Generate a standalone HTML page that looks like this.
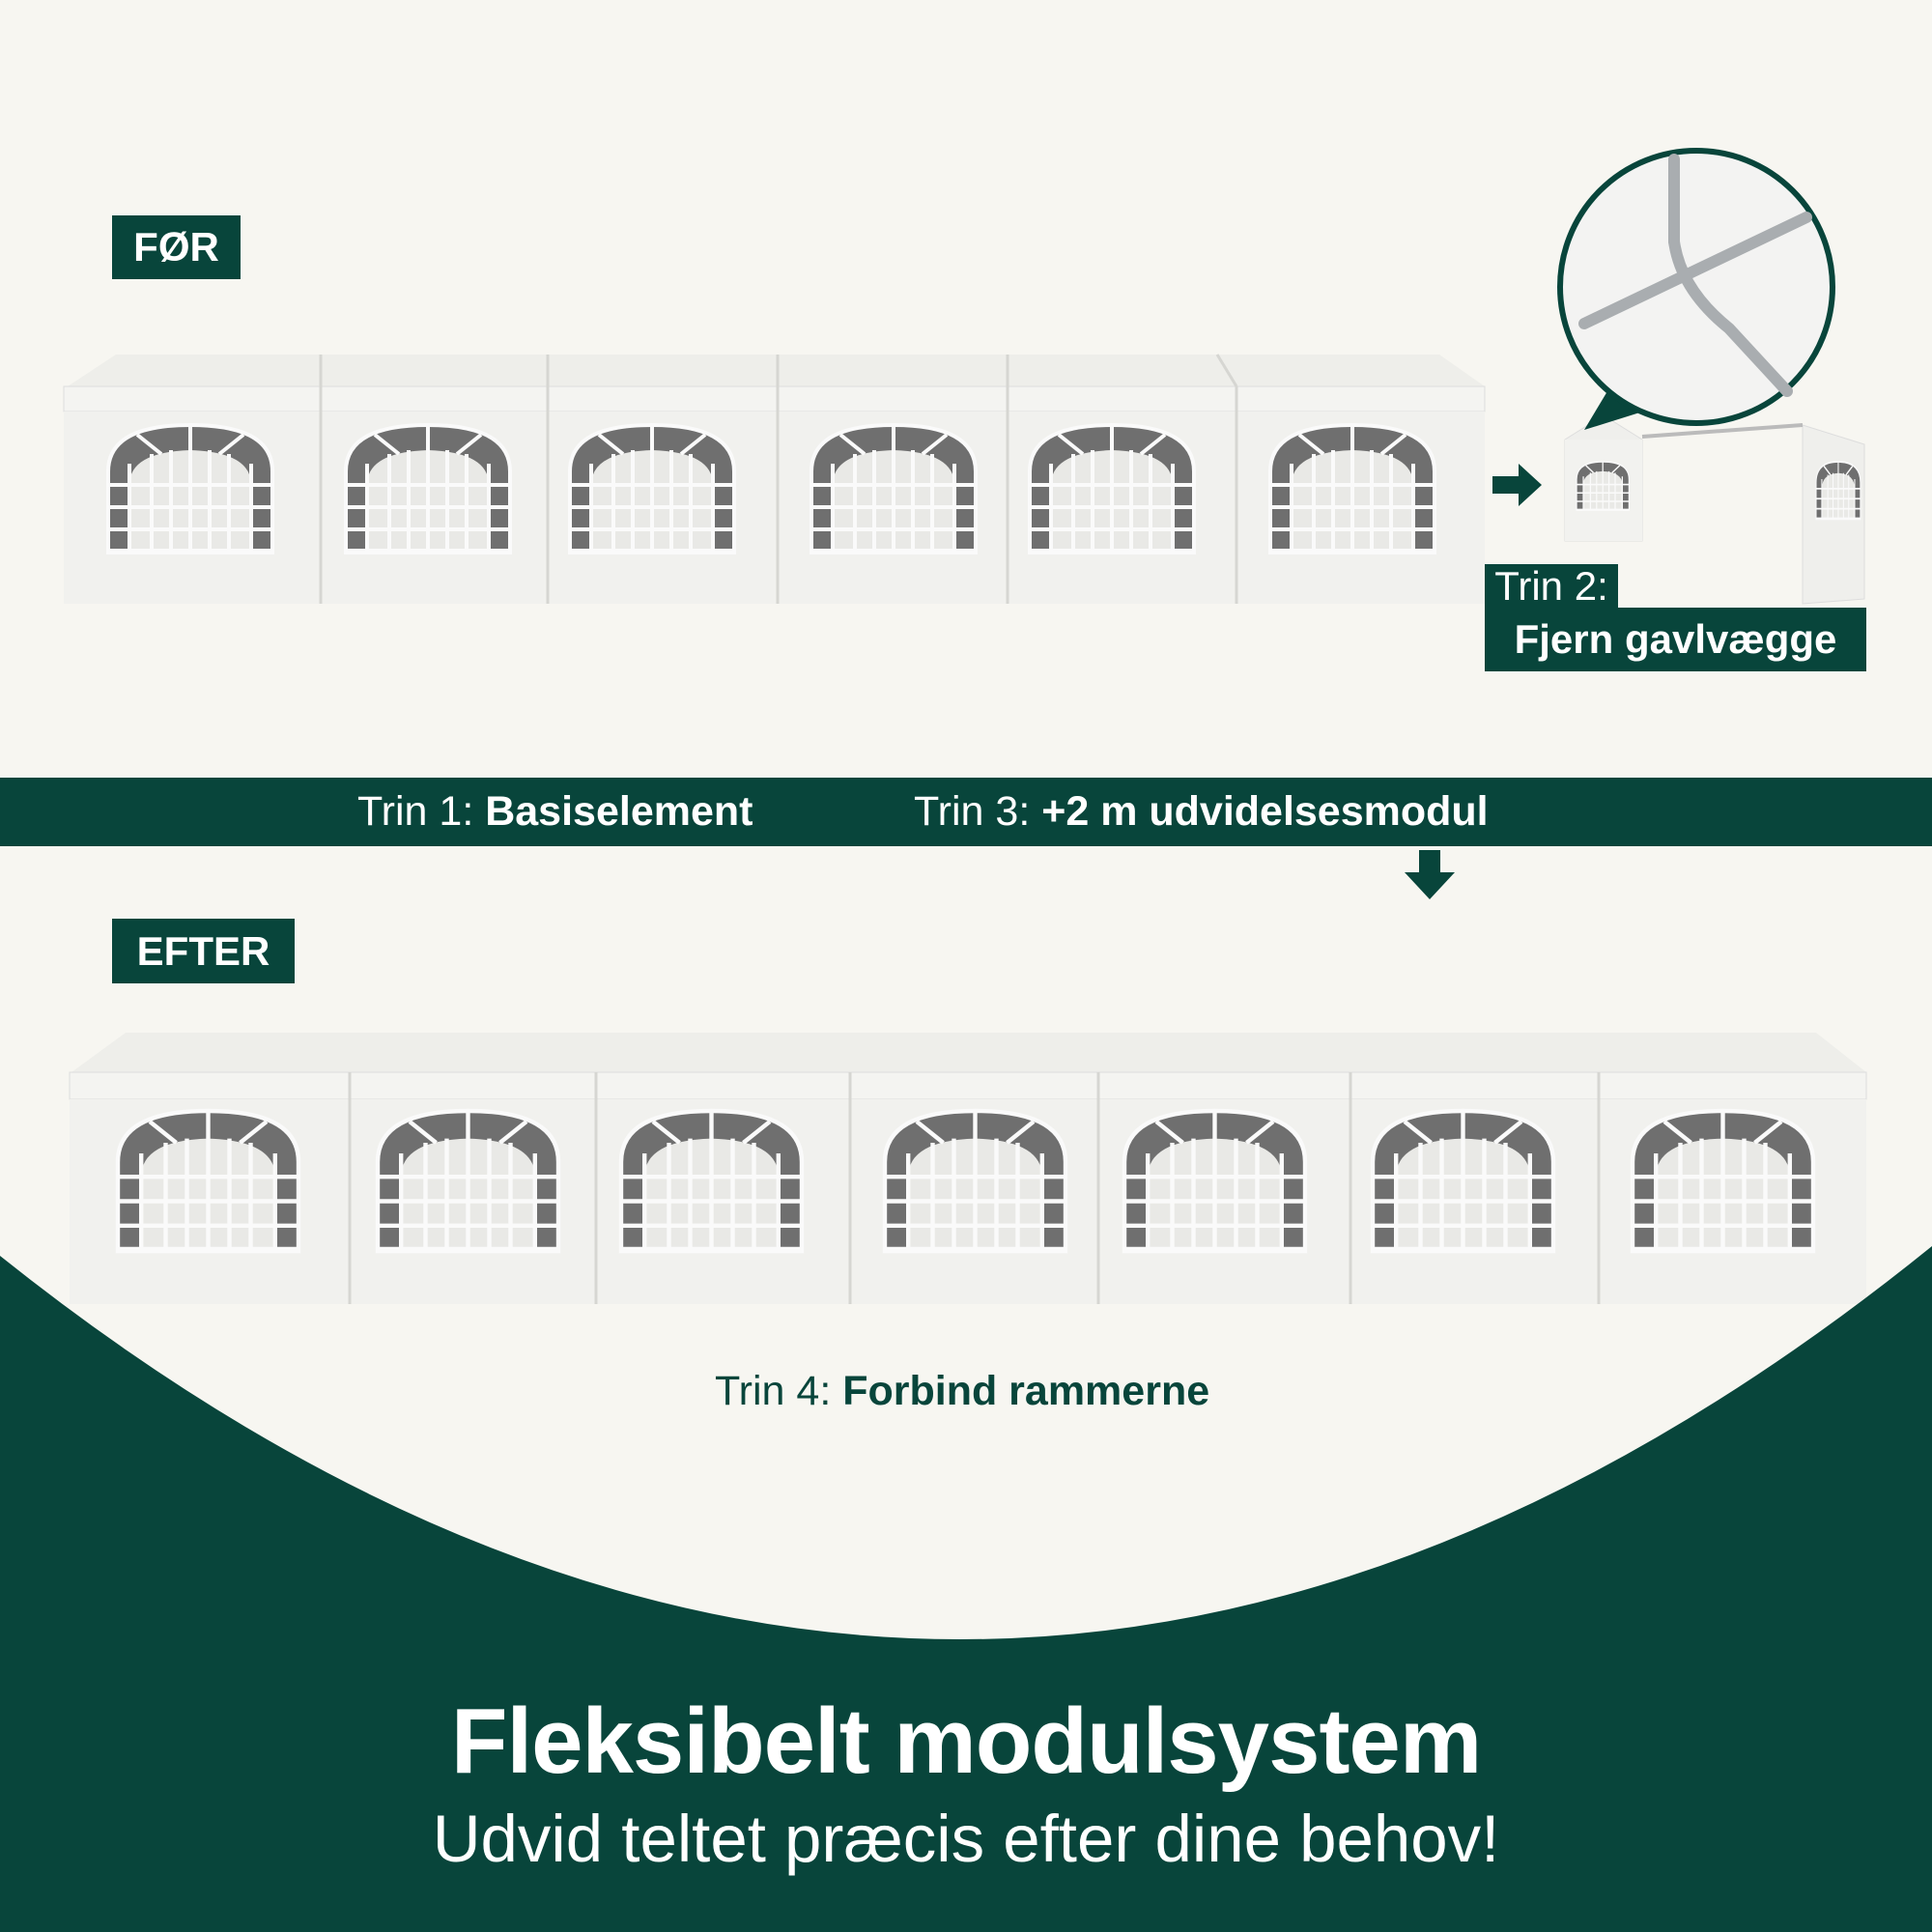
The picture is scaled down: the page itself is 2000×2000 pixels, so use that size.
<!DOCTYPE html>
<html><head><meta charset="utf-8"><style>
html,body{margin:0;padding:0}
body{width:2000px;height:2000px;position:relative;overflow:hidden;background:#f7f6f1;font-family:"Liberation Sans",sans-serif}
.lbl{position:absolute;background:#08453b;color:#fff;font-weight:bold;display:flex;align-items:center;justify-content:center}
.t{position:absolute;white-space:nowrap}
</style></head><body>
<svg width="2000" height="2000" style="position:absolute;left:0;top:0">
<defs>
<g id="win">
<path d="M0,132 L0,48 Q0,0 85,0 Q170,0 170,48 L170,132 Z" fill="#6f6f6f"/>
<path d="M22,132 L22,62 Q22,28 85,26 Q148,28 148,62 L148,132 Z" fill="#e9e9e6"/>
<g stroke="#fafafa" stroke-width="4" fill="none">
<path d="M0,132 L0,48 Q0,0 85,0 Q170,0 170,48 L170,132 Z"/>
<line x1="85" y1="0" x2="85" y2="132"/>
<line x1="22" y1="40" x2="22" y2="132"/><line x1="148" y1="40" x2="148" y2="132"/>
<line x1="45" y1="30" x2="45" y2="132"/><line x1="65" y1="26" x2="65" y2="132"/>
<line x1="105" y1="26" x2="105" y2="132"/><line x1="125" y1="30" x2="125" y2="132"/>
<line x1="0" y1="62" x2="170" y2="62"/><line x1="0" y1="85" x2="170" y2="85"/>
<line x1="0" y1="108" x2="170" y2="108"/><line x1="0" y1="130" x2="170" y2="130"/>
<line x1="30" y1="10" x2="55" y2="30"/><line x1="140" y1="10" x2="115" y2="30"/>
</g>
</g>
</defs>
<polygon points="70,400 120,367 1490,367 1537,400" fill="#eeeeea"/>
<rect x="66" y="400" width="1471" height="26" fill="#f4f4f1" stroke="#ddd"/>
<rect x="66" y="426" width="1471" height="199" fill="#f1f1ee"/>
<g stroke="#d6d6d2" stroke-width="3">
<line x1="332" y1="400" x2="332" y2="625"/><line x1="567" y1="400" x2="567" y2="625"/>
<line x1="805" y1="400" x2="805" y2="625"/><line x1="1043" y1="400" x2="1043" y2="625"/>
<line x1="1280" y1="400" x2="1280" y2="625"/>
<line x1="332" y1="367" x2="332" y2="400"/><line x1="567" y1="367" x2="567" y2="400"/><line x1="805" y1="367" x2="805" y2="400"/><line x1="1043" y1="367" x2="1043" y2="400"/><line x1="1260" y1="367" x2="1280" y2="400"/>
</g>
<use href="#win" x="112" y="440"/><use href="#win" x="358" y="440"/><use href="#win" x="590" y="440"/>
<use href="#win" x="840" y="440"/><use href="#win" x="1066" y="440"/><use href="#win" x="1315" y="440"/>
<polygon points="1545,493 1572,493 1572,480 1596,502 1572,524 1572,511 1545,511" fill="#08453b"/>
<polygon points="1620,455 1660,430 1700,455 1700,560 1620,560" fill="#efefec" stroke="#ddd"/>
<polygon points="1620,455 1700,455 1700,560 1620,560" fill="#f2f2ef"/>
<use href="#win" transform="translate(1632,478) scale(0.32,0.38)"/>
<polygon points="1866,440 1930,460 1930,620 1866,625" fill="#efefec" stroke="#ddd"/>
<use href="#win" transform="translate(1880,478) scale(0.27,0.45)"/>
<line x1="1700" y1="452" x2="1866" y2="440" stroke="#bbb" stroke-width="4"/>
<polygon points="1640,445 1670,395 1720,420" fill="#08453b"/>
<circle cx="1756" cy="297" r="141" fill="#f3f3f2" stroke="#08453b" stroke-width="6"/>
<g stroke="#a9adb0" stroke-width="12" stroke-linecap="round">
<line x1="1733" y1="165" x2="1733" y2="250"/><line x1="1640" y1="335" x2="1870" y2="225"/>
<path d="M1733,250 Q1740,300 1790,340 L1850,405" fill="none"/>
</g>
<rect x="0" y="805" width="2000" height="71" fill="#08453b"/>
<polygon points="1469,880 1491,880 1491,903 1506,903 1480,931 1454,903 1469,903" fill="#08453b"/>
<polygon points="74,1110 130,1069 1880,1069 1932,1110" fill="#eeeeea"/>
<rect x="72" y="1110" width="1860" height="28" fill="#f4f4f1" stroke="#ddd"/>
<rect x="72" y="1138" width="1860" height="212" fill="#f1f1ee"/>
<g stroke="#d6d6d2" stroke-width="3">
<line x1="362" y1="1110" x2="362" y2="1350"/><line x1="617" y1="1110" x2="617" y2="1350"/>
<line x1="880" y1="1110" x2="880" y2="1350"/><line x1="1137" y1="1110" x2="1137" y2="1350"/>
<line x1="1398" y1="1110" x2="1398" y2="1350"/><line x1="1655" y1="1110" x2="1655" y2="1350"/>
</g>
<use href="#win" transform="translate(122,1150) scale(1.1)"/><use href="#win" transform="translate(391,1150) scale(1.1)"/>
<use href="#win" transform="translate(643,1150) scale(1.1)"/><use href="#win" transform="translate(916,1150) scale(1.1)"/>
<use href="#win" transform="translate(1164,1150) scale(1.1)"/><use href="#win" transform="translate(1421,1150) scale(1.1)"/>
<use href="#win" transform="translate(1690,1150) scale(1.1)"/>
<path d="M0,1300 Q1000,2099 2000,1290 L2000,2000 L0,2000 Z" fill="#08453b"/>
</svg>
<div class="lbl" style="left:116px;top:223px;width:133px;height:66px;font-size:42px">FØR</div>
<div class="lbl" style="left:116px;top:951px;width:189px;height:67px;font-size:42px">EFTER</div>
<div class="lbl" style="left:1537px;top:584px;width:138px;height:45px;font-size:42px;font-weight:normal">Trin 2:</div>
<div class="lbl" style="left:1537px;top:629px;width:395px;height:66px;font-size:42px">Fjern gavlvægge</div>
<div class="t" style="left:370px;top:816px;font-size:43px;color:#fff">Trin 1: <b>Basiselement</b></div>
<div class="t" style="left:946px;top:816px;font-size:43px;color:#fff">Trin 3: <b>+2 m udvidelsesmodul</b></div>
<div class="t" style="left:740px;top:1416px;font-size:43px;color:#08453b">Trin 4: <b>Forbind rammerne</b></div>
<div class="t" style="left:0;width:2000px;text-align:center;top:1748px;font-size:96px;font-weight:bold;color:#fff;letter-spacing:-1px">Fleksibelt modulsystem</div>
<div class="t" style="left:0;width:2000px;text-align:center;top:1864px;font-size:69px;color:#fff">Udvid teltet præcis efter dine behov!</div>
</body></html>
